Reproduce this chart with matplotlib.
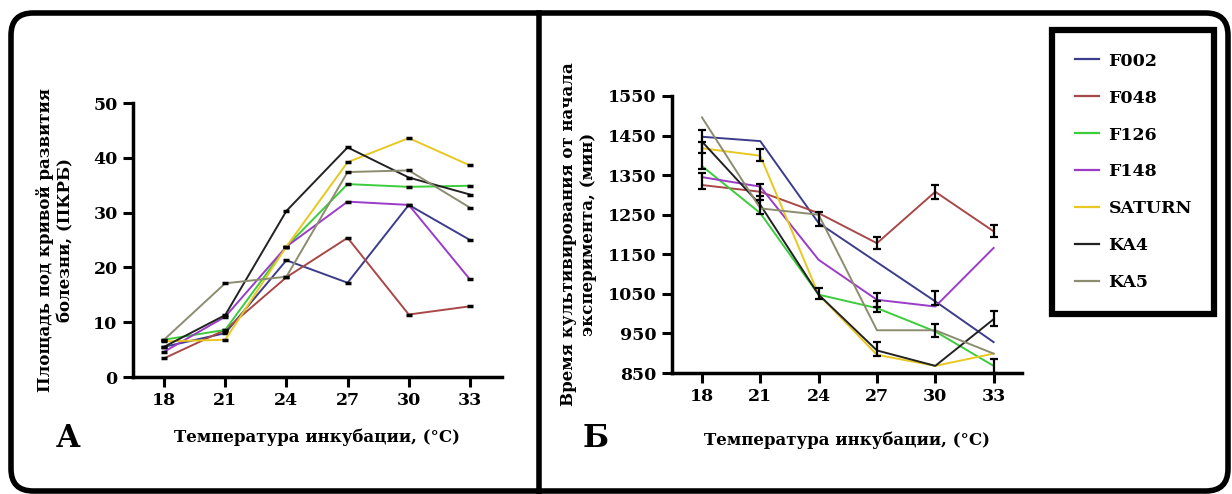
import matplotlib.pyplot as plt
from matplotlib.patches import FancyBboxPatch
from matplotlib.lines import Line2D

temps = [18, 21, 24, 27, 30, 33]
names = ["F002", "F048", "F126", "F148", "SATURN", "KA4", "KA5"]
colors = ["#3c3c8c", "#a84848", "#3ccc3c", "#9a3cc8", "#e8c820", "#222222", "#8c8c70"]

# площадь под кривой развития болезни
audpc_f002 = [5.5, 8.0, 21.3, 17.2, 31.4, 25.0]
audpc_f048 = [3.4, 8.6, 18.2, 25.4, 11.4, 12.9]
audpc_f126 = [6.8, 8.6, 23.8, 35.2, 34.7, 34.9]
audpc_f148 = [4.6, 11.0, 23.8, 32.0, 31.4, 17.8]
audpc_saturn = [6.5, 6.8, 23.8, 39.2, 43.6, 38.6]
audpc_ka4 = [5.5, 11.3, 30.3, 41.9, 36.4, 33.3]
audpc_ka5 = [6.8, 17.1, 18.3, 37.4, 37.7, 30.9]

# время культивирования, мин
time_f002 = [1447, 1436, 1229, 1130, 1031, 928]
time_f048 = [1325, 1308, 1254, 1178, 1308, 1208]
time_f126 = [1373, 1254, 1048, 1014, 955, 868]
time_f148 = [1345, 1321, 1136, 1035, 1018, 1166]
time_saturn = [1418, 1399, 1048, 896, 868, 899]
time_ka4 = [1435, 1275, 1048, 907, 868, 986]
time_ka5 = [1496, 1266, 1250, 958, 958, 899]

# видимые планки погрешностей
err_x = [18, 18, 18, 21, 21, 21, 24, 24, 27, 27, 27, 27, 30, 30, 30, 33, 33, 33]
err_y = [1435, 1400, 1335, 1400, 1308, 1275, 1240, 1052, 1178, 1035, 1018, 910, 1308, 1040, 958, 1208, 988, 868]
err_e = [30, 35, 20, 15, 20, 22, 18, 14, 15, 17, 15, 18, 18, 17, 17, 15, 18, 18]

audpc = [audpc_f002, audpc_f048, audpc_f126, audpc_f148, audpc_saturn, audpc_ka4, audpc_ka5]
times = [time_f002, time_f048, time_f126, time_f148, time_saturn, time_ka4, time_ka5]

plt.rcParams['font.family'] = ['DejaVu Serif']
plt.rcParams['font.weight'] = 'bold'

W, H = 1232, 494
fig = plt.figure(figsize=(W / 100, H / 100), dpi=100)


def ax_at(x0, y0, x1, y1):
    return fig.add_axes([x0 / W, 1 - y1 / H, (x1 - x0) / W, (y1 - y0) / H])


def style(ax):
    for s in ["top", "right"]:
        ax.spines[s].set_visible(False)
    for s in ["left", "bottom"]:
        ax.spines[s].set_linewidth(2.5)
    ax.tick_params(width=2.2, length=7, labelsize=12.5, pad=4)
    for lab in ax.get_xticklabels() + ax.get_yticklabels():
        lab.set_fontweight('bold')


# панель А
ax1 = ax_at(133, 103, 502, 377)
for vals, c in zip(audpc, colors):
    ax1.plot(temps, vals, color=c, lw=1.4, marker='_', ms=5, mew=2.5, mec='black')
ax1.set_xlim(16.48, 34.57)
ax1.set_ylim(0, 50)
ax1.set_xticks(temps)
ax1.set_yticks([0, 10, 20, 30, 40, 50])
style(ax1)
ax1.set_xlabel("Температура инкубации, (°С)", fontsize=12, fontweight='bold', labelpad=14)
ax1.set_ylabel("Площадь под кривой развития\nболезни, (ПКРБ)", fontsize=12, fontweight='bold', labelpad=14)

# панель Б
ax2 = ax_at(672, 96, 1022, 373)
for vals, c, n in zip(times, colors, names):
    ax2.plot(temps, vals, color=c, lw=1.4, label=n)
ax2.errorbar(err_x, err_y, yerr=err_e, fmt='none', ecolor='black', elinewidth=1.6, capsize=3, capthick=1.6)
ax2.set_xlim(16.46, 34.46)
ax2.set_ylim(850, 1550)
ax2.set_xticks(temps)
ax2.set_yticks([850, 950, 1050, 1150, 1250, 1350, 1450, 1550])
style(ax2)
ax2.set_xlabel("Температура инкубации, (°С)", fontsize=12, fontweight='bold', labelpad=19)
ax2.set_ylabel("Время культивирования от начала\nэксперимента, (мин)", fontsize=12, fontweight='bold', labelpad=8)

fig.text(68 / W, 1 - 438 / H, "А", fontsize=22, fontweight='bold', ha='center', va='center')
fig.text(596 / W, 1 - 438 / H, "Б", fontsize=22, fontweight='bold', ha='center', va='center')

# легенда
handles = [Line2D([0], [0], color=c, lw=1.6) for c in colors]
leg = fig.legend(handles, names, loc='upper left', bbox_to_anchor=(1052 / W, 1 - 30 / H),
                 frameon=True, fancybox=False, edgecolor='black', framealpha=1,
                 prop={'weight': 'bold', 'size': 12.5}, handlelength=1.4, handletextpad=0.55,
                 labelspacing=1.15, borderpad=1.3, borderaxespad=0)
leg.get_frame().set_linewidth(4.5)

# рамка
frame = FancyBboxPatch((11 / W, 1 - 491 / H), (1228 - 11) / W, (491 - 13) / H,
                       boxstyle="round,pad=0,rounding_size=0.018", transform=fig.transFigure,
                       fill=False, lw=4, ec='black', mutation_aspect=W / H)
fig.patches.append(frame)
fig.add_artist(Line2D([539 / W, 539 / W], [0, 1 - 13 / H], color='black', lw=4, transform=fig.transFigure))

fig.savefig("out.png", dpi=100)
